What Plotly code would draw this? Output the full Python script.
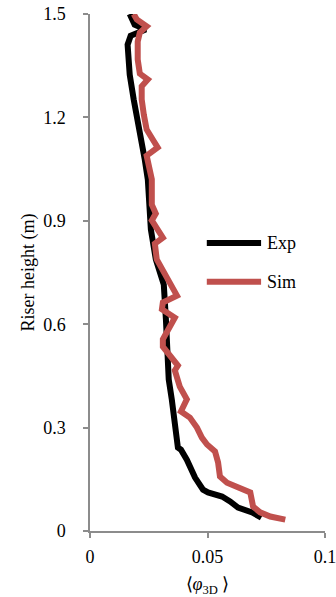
import plotly.graph_objects as go

# Exp (black) profile: solids fraction vs riser height
exp_phi = [0.0169, 0.0190, 0.0237, 0.0173, 0.0160, 0.0165, 0.0169, 0.0186, 0.0203, 0.0220,
           0.0233, 0.0246, 0.0250, 0.0259, 0.0280, 0.0314, 0.0323, 0.0327, 0.0335, 0.0348,
           0.0361, 0.0370, 0.0374, 0.0387, 0.0412, 0.0447, 0.0481, 0.0502, 0.0562, 0.0596,
           0.0630, 0.0690, 0.0729]
exp_h = [1.500, 1.469, 1.455, 1.437, 1.411, 1.368, 1.324, 1.252, 1.194, 1.136,
         1.078, 1.020, 0.962, 0.875, 0.788, 0.715, 0.614, 0.527, 0.440, 0.382,
         0.323, 0.265, 0.242, 0.236, 0.207, 0.155, 0.120, 0.112, 0.100, 0.086,
         0.068, 0.054, 0.039]

# Sim (red) profile
sim_phi = [0.0186, 0.0199, 0.0241, 0.0212, 0.0203, 0.0203, 0.0212, 0.0246, 0.0220, 0.0220,
           0.0229, 0.0241, 0.0267, 0.0288, 0.0241, 0.0263, 0.0263, 0.0263, 0.0280, 0.0263,
           0.0310, 0.0276, 0.0284, 0.0340, 0.0370, 0.0310, 0.0306, 0.0361, 0.0340, 0.0310,
           0.0310, 0.0353, 0.0374, 0.0361, 0.0382, 0.0412, 0.0387, 0.0425, 0.0455, 0.0476,
           0.0498, 0.0532, 0.0545, 0.0553, 0.0583, 0.0682, 0.0694, 0.0724, 0.0767, 0.0831]
sim_h = [1.500, 1.484, 1.464, 1.446, 1.420, 1.368, 1.327, 1.310, 1.290, 1.252,
         1.208, 1.165, 1.136, 1.113, 1.089, 1.020, 0.976, 0.947, 0.921, 0.901,
         0.851, 0.834, 0.788, 0.721, 0.683, 0.663, 0.643, 0.619, 0.593, 0.556,
         0.535, 0.497, 0.480, 0.466, 0.419, 0.382, 0.347, 0.329, 0.300, 0.271,
         0.251, 0.231, 0.199, 0.158, 0.140, 0.112, 0.071, 0.054, 0.042, 0.033]

series_names = ["Exp", "Sim"]
series_colors = ["black", "#C0504D"]

x_ticks = [0, 0.05, 0.1]
x_tick_labels = ["0", "0.05", "0.1"]
y_ticks = [0, 0.3, 0.6, 0.9, 1.2, 1.5]
y_tick_labels = ["0", "0.3", "0.6", "0.9", "1.2", "1.5"]

FONT = "Liberation Serif"
FS = 18
AXIS_GRAY = "#8c8c8c"
LW = 6

fig = go.Figure()
for xs, ys, name, col in [(exp_phi, exp_h, series_names[0], series_colors[0]),
                          (sim_phi, sim_h, series_names[1], series_colors[1])]:
    fig.add_trace(go.Scatter(x=xs, y=ys, mode="lines", name=name, showlegend=False,
                             line=dict(color=col, width=LW)))

# legend drawn in paper coordinates
legend_y = [0.557, 0.482]
shapes = []
annotations = []
for name, col, ly in zip(series_names, series_colors, legend_y):
    shapes.append(dict(type="line", xref="paper", yref="paper",
                       x0=0.497, x1=0.728, y0=ly, y1=ly,
                       line=dict(color=col, width=LW)))
    annotations.append(dict(xref="paper", yref="paper", x=0.745, y=ly,
                            xanchor="left", yanchor="middle", showarrow=False,
                            text=name, font=dict(family=FONT, size=FS, color="black")))

fig.update_layout(
    width=336, height=597,
    margin=dict(l=90, r=11, t=14, b=66),
    paper_bgcolor="white", plot_bgcolor="white",
    font=dict(family=FONT, size=FS, color="black"),
    shapes=shapes, annotations=annotations,
    xaxis=dict(range=[0, 0.1], tickvals=x_ticks, ticktext=x_tick_labels,
               automargin=False, ticklabeloverflow="allow",
               showgrid=False, zeroline=False, showline=True, linecolor=AXIS_GRAY,
               linewidth=1.5, ticks="outside", ticklen=5, tickcolor=AXIS_GRAY,
               tickwidth=1.5, tickfont=dict(family=FONT, size=FS),
               ticklabelstandoff=4,
               title=dict(text="⟨<i>φ</i><sub>3D</sub> ⟩", standoff=11,
                          font=dict(family=FONT, size=FS))),
    yaxis=dict(range=[0, 1.5], tickvals=y_ticks, ticktext=y_tick_labels,
               automargin=False, ticklabeloverflow="allow",
               showgrid=False, zeroline=False, showline=True, linecolor=AXIS_GRAY,
               linewidth=1.5, ticks="outside", ticklen=5, tickcolor=AXIS_GRAY,
               tickwidth=1.5, tickfont=dict(family=FONT, size=FS),
               ticklabelstandoff=14,
               title=dict(text="Riser height (m)", standoff=4,
                          font=dict(family=FONT, size=FS))),
)

fig.write_html("out.html")
